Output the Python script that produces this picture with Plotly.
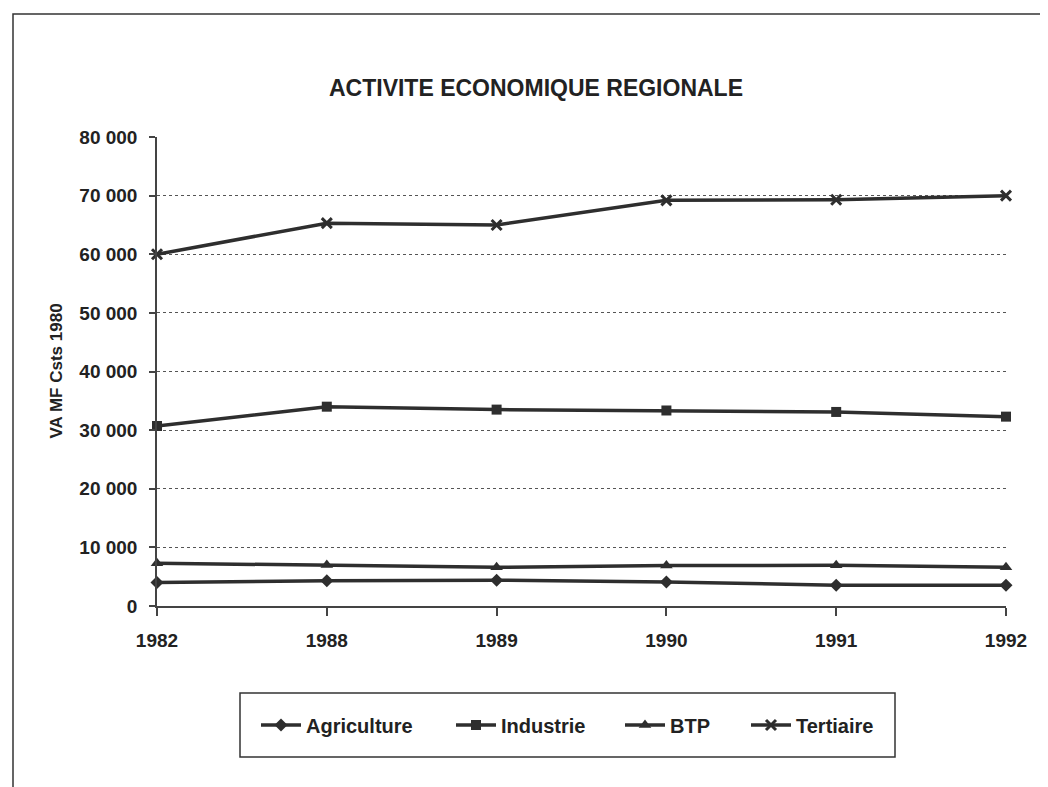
import plotly.graph_objects as go

years = ["1982", "1988", "1989", "1990", "1991", "1992"]
agriculture = [4000, 4300, 4400, 4100, 3550, 3550]
industrie = [30700, 34000, 33500, 33350, 33100, 32300]
btp = [7300, 7000, 6600, 6900, 6950, 6600]
tertiaire = [60000, 65300, 65000, 69200, 69300, 70000]
y_ticks = [0, 10000, 20000, 30000, 40000, 50000, 60000, 70000, 80000]

series = [
    ("Agriculture", agriculture, "diamond", 10),
    ("Industrie", industrie, "square", 10),
    ("BTP", btp, "triangle-up", 11),
    ("Tertiaire", tertiaire, "x-thin-open", 10),
]
legend_ids = ["legend", "legend2", "legend3", "legend4"]
legend_x_screen = [256, 451, 620, 746]

LC = "#2e2e2e"
FONT = "Liberation Sans, Arial"
OFF = 8  # page offset of the figure in the browser
W, H = 1040, 779
L, R, T, B = 149, 42, 129, 181
PW, PH = W - L - R, H - T - B


def px(xs):
    """screen x -> paper x"""
    return (xs - OFF - L) / PW


def py(ys):
    """screen y -> paper y"""
    return (H - B - (ys - OFF)) / PH


fig = go.Figure()
for (name, vals, sym, size), lid in zip(series, legend_ids):
    fig.add_trace(go.Scatter(
        x=years, y=vals, name=name, mode="lines+markers",
        line=dict(color=LC, width=3.5),
        marker=dict(symbol=sym, size=size, color=LC,
                    line=dict(color=LC, width=3 if "open" in sym else 0)),
        cliponaxis=False, legend=lid,
    ))

legend_style = dict(orientation="h", xanchor="left", yanchor="middle",
                    borderwidth=0, bgcolor="rgba(0,0,0,0)",
                    font=dict(family=FONT, size=20, color="#222", weight="bold"),
                    itemwidth=40)
legends = {lid: dict(legend_style, x=px(xs), y=py(725))
           for lid, xs in zip(legend_ids, legend_x_screen)}

fig.update_layout(
    width=W, height=H,
    paper_bgcolor="white", plot_bgcolor="white",
    margin=dict(l=L, r=R, t=T, b=B),
    separators=", ",
    title=dict(text="ACTIVITE ECONOMIQUE REGIONALE", x=(536 - OFF) / W, xanchor="center",
               y=1 - (88 - OFF) / H, yanchor="middle",
               font=dict(family=FONT, size=23, color="#222", weight="bold")),
    showlegend=True,
    font=dict(family=FONT, color="#222"),
    **legends,
)

fig.update_xaxes(
    type="category", range=[0, 5],
    showline=True, linecolor="#444", linewidth=1.5,
    ticks="outside", ticklen=8, tickcolor="#444", tickwidth=1.5,
    ticklabelstandoff=8,
    showgrid=False,
    tickfont=dict(family=FONT, size=19, color="#222", weight="bold"),
)
fig.update_yaxes(
    range=[0, 80000], tickvals=y_ticks, tickformat=",d",
    showline=True, linecolor="#444", linewidth=1.5,
    ticks="outside", ticklen=6, tickcolor="#444", tickwidth=1.5,
    ticklabelstandoff=8,
    showgrid=True, gridcolor="#555", griddash="dot", gridwidth=1,
    zeroline=False,
    tickfont=dict(family=FONT, size=19, color="#222", weight="bold"),
)

fig.add_annotation(
    text="VA MF Csts 1980", textangle=-90,
    xref="paper", yref="paper", x=px(56), y=0.5,
    xanchor="center", yanchor="middle",
    showarrow=False, font=dict(family=FONT, size=17, color="#222", weight="bold"),
)

# legend frame
fig.add_shape(type="rect", xref="paper", yref="paper",
              x0=px(240), x1=px(895), y0=py(757), y1=py(693),
              line=dict(color="#333", width=1.5), fillcolor="white", layer="below")

# outer chart frame
fig.add_shape(type="rect", xref="paper", yref="paper",
              x0=px(13), x1=px(W + 60), y0=py(H + 60), y1=py(14),
              line=dict(color="#333", width=1.5), layer="below")

fig.write_html("out.html")
